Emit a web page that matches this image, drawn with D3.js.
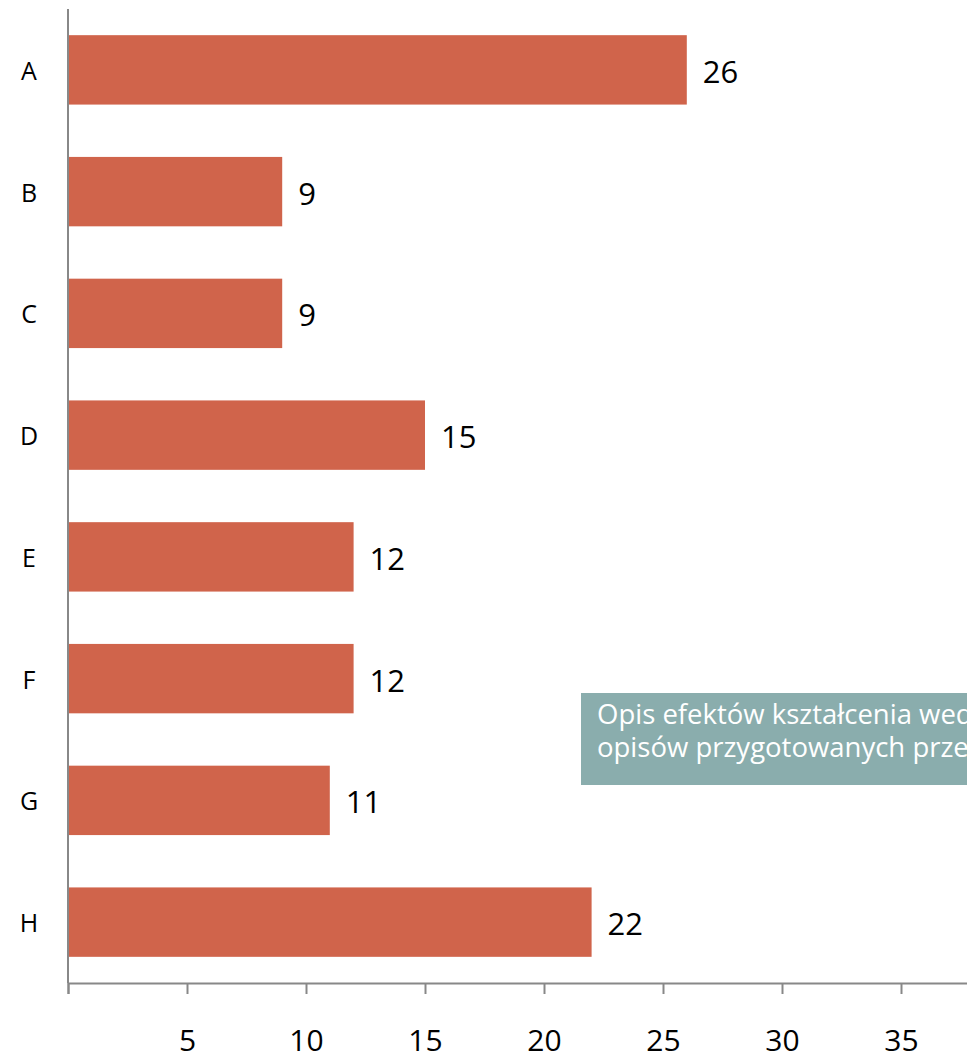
<!DOCTYPE html>
<html><head><meta charset="utf-8">
<script src="https://cdn.jsdelivr.net/npm/d3@7"></script>
<style>body{margin:0;background:#fff;overflow:hidden}svg{display:block}</style>
</head><body>
<script>
const categories = ["A","B","C","D","E","F","G","H"];
const values = [26, 9, 9, 15, 12, 12, 11, 22];
const tickValues = [0, 5, 10, 15, 20, 25, 30, 35, 40];
const boxLines = ["Opis efektów kształcenia według", "opisów przygotowanych przez"];

const W = 967, H = 1056;
const font = "'Open Sans', sans-serif";
const svg = d3.select("body").append("svg").attr("width", W).attr("height", H);

const x = d3.scaleLinear().domain([0, 40]).range([68, 68 + 40 * 23.8]);
const y = d3.scaleBand().domain(categories).range([9, 983]).paddingInner(0.43).paddingOuter(0.215);

svg.selectAll("rect.bar").data(categories).join("rect")
  .attr("class", "bar")
  .attr("x", x(0)).attr("y", d => y(d))
  .attr("width", (d, i) => x(values[i]) - x(0))
  .attr("height", y.bandwidth())
  .attr("fill", "#d0644b");

// y axis line
svg.append("line").attr("x1", 68).attr("x2", 68).attr("y1", 9).attr("y2", 983)
  .attr("stroke", "#888").attr("stroke-width", 2);

// x axis
const xAxis = d3.axisBottom(x).tickValues(tickValues).tickSize(11).tickFormat(d => d === 0 ? "" : d);
const gx = svg.append("g").attr("transform", "translate(0,983)").call(xAxis);
gx.select(".domain").attr("stroke", "#888").attr("stroke-width", 2);
gx.selectAll(".tick line").attr("stroke", "#888").attr("stroke-width", 2);
gx.selectAll(".tick text").attr("font-family", font).attr("font-size", 30).attr("fill", "#000")
  .attr("dy", 0).attr("y", 56).attr("dominant-baseline", "central");

// category labels
svg.selectAll("text.cat").data(categories).join("text")
  .attr("class", "cat").attr("x", 29).attr("y", d => y(d) + y.bandwidth() / 2)
  .attr("text-anchor", "middle").attr("dominant-baseline", "central")
  .attr("font-family", font).attr("font-size", 25).text(d => d);

// value labels
svg.selectAll("text.val").data(categories).join("text")
  .attr("class", "val").attr("x", (d, i) => x(values[i]) + 16)
  .attr("y", d => y(d) + y.bandwidth() / 2 + 1)
  .attr("dominant-baseline", "central")
  .attr("font-family", font).attr("font-size", 31).text((d, i) => values[i]);

// text box
const box = svg.append("g");
box.append("rect").attr("x", 581).attr("y", 693).attr("width", 420).attr("height", 92).attr("fill", "#8aadad");
box.selectAll("text").data(boxLines).join("text")
  .attr("x", 597).attr("y", (d, i) => 724 + i * 33)
  .attr("font-family", font).attr("font-size", 27.5).attr("fill", "#fff").text(d => d);
</script>
</body></html>
